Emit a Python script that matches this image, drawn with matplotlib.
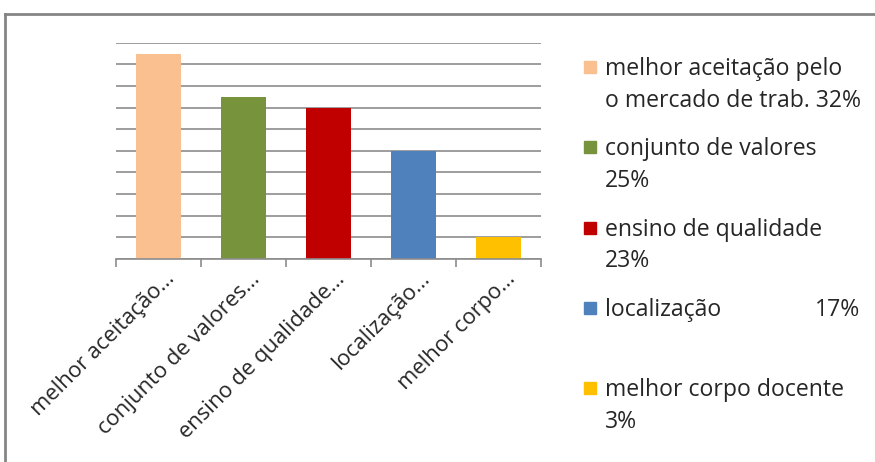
import matplotlib
matplotlib.use('Agg')
import matplotlib.pyplot as plt
from matplotlib.lines import Line2D
from matplotlib.patches import Rectangle
from matplotlib.transforms import ScaledTranslation

# ----- Data
categorias = ['melhor aceitação...', 'conjunto de valores...', 'ensino de qualidade...',
              'localização...', 'melhor corpo...']
respostas = [19, 15, 14, 10, 2]
legenda = ['melhor aceitação pelo\no mercado de trab. 32%', 'conjunto de valores\n25%',
           'ensino de qualidade\n23%', 'localização', 'melhor corpo docente\n3%']
cores = ['#FAC090', '#77933C', '#C00000', '#4F81BD', '#FFC000']

plt.rcParams['font.family'] = ['Open Sans', 'DejaVu Sans']
grid_color = '#8C8C8C'
text_color = '#262626'

fig = plt.figure(figsize=(8.75, 4.62), dpi=100)
ax = fig.add_axes([0.1326, 0.4394, 0.4857, 0.4682])

x = range(len(categorias))
ax.bar(x, respostas, width=0.52, color=cores, zorder=3)

ax.set_xlim(-0.5, len(categorias) - 0.5)
ax.set_ylim(0, 20)
ax.set_yticks(range(0, 21, 2))
ax.yaxis.grid(True, color=grid_color, linewidth=1.2)
ax.tick_params(axis='y', left=False, labelleft=False)
for s in ['left', 'right', 'top']:
    ax.spines[s].set_visible(False)
ax.spines['bottom'].set_color(grid_color)
ax.spines['bottom'].set_linewidth(1.2)
ax.spines['bottom'].set_zorder(4)

# category boundaries carry the tick marks, labels sit at the bar centres
ax.set_xticks([i - 0.5 for i in range(len(categorias) + 1)])
ax.set_xticklabels([])
ax.tick_params(axis='x', which='major', length=6, width=1.2, color=grid_color)
ax.set_xticks(list(x), minor=True)
ax.set_xticklabels(categorias, minor=True, rotation=45, ha='right',
                   rotation_mode='anchor', fontsize=15.8, color=text_color)
ax.tick_params(axis='x', which='minor', length=0, pad=4)
shift = ScaledTranslation(0.06, -0.04, fig.dpi_scale_trans)
for lbl in ax.get_xticklabels(minor=True):
    lbl.set_transform(lbl.get_transform() + shift)

# ----- Legend
fs = 16.6
for i, (txt, c) in enumerate(zip(legenda, cores)):
    ytop = 67 + 80.3 * i
    fig.patches.append(Rectangle((584 / 875, 1 - (ytop + 6) / 462), 12 / 875, 12 / 462,
                                 transform=fig.transFigure, color=c))
    fig.text(605 / 875, 1 - (ytop - 10) / 462, txt, fontsize=fs, color=text_color,
             va='top', ha='left', linespacing=1.42)
fig.text(860 / 875, 1 - (67 + 80.3 * 3 - 10) / 462, '17%', fontsize=fs, color=text_color,
         va='top', ha='right')

# ----- Outer frame
fig.lines.append(Line2D([5 / 875, 1], [1 - 14 / 462, 1 - 14 / 462], transform=fig.transFigure,
                        color='#858585', linewidth=2))
fig.lines.append(Line2D([5 / 875, 5 / 875], [0, 1 - 14 / 462], transform=fig.transFigure,
                        color='#858585', linewidth=2))

fig.savefig('out.png', dpi=100)
